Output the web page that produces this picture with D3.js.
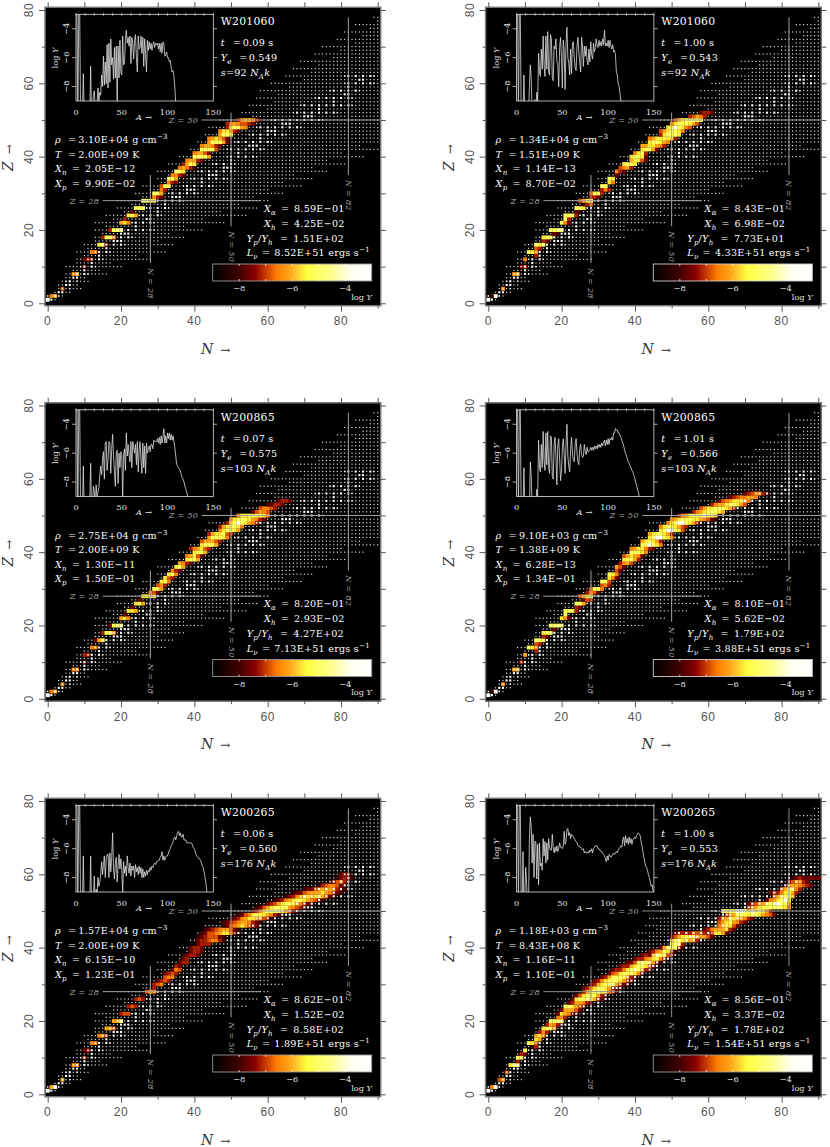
<!DOCTYPE html>
<html lang="en">
<head>
<meta charset="UTF-8">
<title>Nuclide abundances</title>
<script src="https://cdnjs.cloudflare.com/ajax/libs/d3/7.8.5/d3.min.js"></script>
<style>
    html, body { margin: 0; padding: 0; background: white; }
    svg { display: block; }
    text { font-family: "DejaVu Serif", serif; }
    .tick-num { font-family: "Liberation Sans", sans-serif; font-size: 12px; fill: #555; letter-spacing: .6px; }
    .info { font-size: 9.6px; fill: white; letter-spacing: .25px; }
    .sub { font-size: 7px; }
    .magic { font-size: 8px; font-style: italic; fill: #a8a8a8; letter-spacing: .3px; }
    .small { font-size: 8.2px; fill: #e4e4e4; }
</style>
</head>
<body>
<div id="chart"></div>
<script>
    // header texts, one entry per panel
    const modelNames = ["W201060", "W201060", "W200865", "W200865", "W200265", "W200265"];
    const times = ["0.09", "1.00", "0.07", "1.01", "0.06", "1.00"];
    const yeValues = ["0.549", "0.543", "0.575", "0.566", "0.560", "0.553"];
    const entropies = ["92", "92", "103", "103", "176", "176"];
    const rhoValues = ["3.10E+04", "1.34E+04", "2.75E+04", "9.10E+03", "1.57E+04", "1.18E+03"];
    const tempValues = ["2.00E+09", "1.51E+09", "2.00E+09", "1.38E+09", "2.00E+09", "8.43E+08"];
    const xnValues = ["2.05E−12", "1.14E−13", "1.30E−11", "6.28E−13", "6.15E−10", "1.16E−11"];
    const xpValues = ["9.90E−02", "8.70E−02", "1.50E−01", "1.34E−01", "1.23E−01", "1.10E−01"];
    const xaValues = ["8.59E−01", "8.43E−01", "8.20E−01", "8.10E−01", "8.62E−01", "8.56E−01"];
    const xhValues = ["4.25E−02", "6.98E−02", "2.93E−02", "5.62E−02", "1.52E−02", "3.37E−02"];
    const ypyhValues = ["1.51E+02", "7.73E+01", "4.27E+02", "1.79E+02", "8.58E+02", "1.78E+02"];
    const lnuValues = ["8.52E+51", "4.33E+51", "7.13E+51", "3.88E+51", "1.89E+51", "1.54E+51"];

    // inset curves, log Y for A = 1, 2, 3 ...  (-10 means off the bottom)
    const insetP1 = [-2.5,-10,-3,-2.5,-10,-10,-10,-7.1,-10,-10,-10,-10,-10,-10,-10,-6.6,-10,-9.5,-8.6,-8.3,-9.4,-9,-9.2,-8.1,-9,-8.4,-8.6,-7.2,-8,-5.9,-7.9,-6.3,-7.8,-5.1,-8.1,-5,-7.7,-4.7,-6.5,-6,-7.5,-5.3,-7.4,-5.2,-9.5,-5.2,-7.4,-4.8,-7,-7.2,-4.5,-6.5,-6.4,-4.7,-4.1,-5,-4.6,-5.2,-4.5,-6.4,-4.6,-5,-6.1,-4.8,-4.4,-6,-7,-4.5,-5.4,-5.3,-4.5,-5.7,-4.6,-6.6,-4.7,-5.7,-7,-4.8,-5.5,-4.9,-5.4,-5,-5.5,-5.1,-4.9,-5.3,-5,-5.1,-5,-5.4,-5,-5.6,-5,-5.7,-4.9,-5,-5.9,-5.8,-5.6,-6,-6,-6.3,-6.2,-6.7,-7,-6.9,-7.3,-8.1,-9.2,-10];
    const insetP2 = [-2.5,-10,-3,-2.5,-10,-10,-10,-7.2,-10,-10,-10,-10,-10,-8,-6.5,-7.5,-10,-9.3,-9.4,-8.9,-9.6,-8.4,-9,-5.7,-7,-7.3,-5.4,-6.8,-4.5,-6.5,-7.3,-4.5,-6.8,-4.2,-7,-7.2,-4.4,-4.7,-7.4,-7.6,-5.2,-5.4,-4.7,-6.3,-6.4,-8,-5.3,-4.6,-6,-8.1,-4.8,-5.6,-8.2,-5,-3.9,-6,-6.4,-7.2,-5.4,-7.1,-5,-4.9,-6,-6.7,-6.9,-5.2,-4.6,-5.6,-6.3,-7,-4.6,-5.2,-6.6,-5.2,-5.9,-5.2,-6.2,-6.5,-5.4,-6.3,-4.9,-5.8,-6.1,-5,-5.6,-5.3,-4.7,-5.2,-5.3,-4.8,-5.2,-4.9,-5.2,-4.7,-5.1,-4.1,-5.2,-5,-5.2,-4.8,-5.3,-4.8,-5.2,-5.4,-5.1,-5.6,-5.5,-5.8,-7,-7.2,-7.8,-8,-8.5,-9,-10];
    const insetP3 = [-2.5,-10,-3,-2.5,-10,-10,-10,-6.9,-10,-10,-10,-10,-10,-10,-9.4,-6.7,-10,-9.6,-8.3,-8.6,-10,-8.2,-9,-8.7,-8.4,-7.5,-6.9,-7.5,-6.4,-5.9,-7.8,-5.3,-5.2,-7.2,-6.4,-5.2,-5.3,-7.4,-5.7,-4.7,-6.2,-7.3,-8.3,-6,-5.8,-8.1,-6,-7,-5.9,-6.1,-9.2,-6.1,-5.7,-7.2,-4.6,-6.2,-5.4,-6.1,-6.6,-5.2,-7,-5.2,-5.6,-6,-5.4,-6.8,-5.2,-7.3,-5.8,-5.2,-6.4,-7.4,-5.3,-7,-5.5,-7.4,-5.3,-6,-5.7,-5.5,-5.9,-5.4,-5.4,-5.7,-5.1,-5.2,-5.2,-5.2,-5,-5.3,-4.9,-5.4,-4.8,-5.3,-4.9,-4.3,-5.3,-4.8,-5.3,-4.6,-5,-4.6,-5.1,-4.7,-5.1,-4.8,-5.2,-5.6,-6.2,-6.8,-6.9,-7,-7.1,-7.2,-7.5,-7.7,-7.8,-8,-8.3,-8.5,-8.7,-9,-10];
    const insetP4 = [-2.5,-10,-3,-2.5,-10,-10,-10,-7,-10,-10,-10,-10,-10,-10,-6.6,-7.6,-10,-9.3,-9.5,-9,-9.7,-8.5,-9,-5.1,-7,-7.3,-5.4,-7,-4.5,-6.5,-7.2,-4.6,-6.8,-4.5,-7,-7.4,-4.8,-4.9,-7.6,-7.8,-5.4,-4.9,-6.3,-8.2,-5.5,-5,-6.4,-7.9,-7.3,-5.6,-5,-6.1,-7.4,-5.4,-4,-6.2,-6.9,-7.3,-5.8,-4.9,-6,-6.5,-6.6,-5.4,-5,-6,-6.6,-6.8,-5.7,-5.4,-6.1,-6.3,-6.2,-5.4,-5.9,-6.1,-5.6,-5.9,-5.9,-5.8,-5.6,-5.8,-5.6,-5.8,-5.5,-5.7,-5.5,-5.7,-5.4,-5.6,-5.4,-5.6,-5.3,-5.5,-5.2,-5.1,-5.5,-5.1,-5.4,-5,-5.4,-5,-5.1,-4.9,-5.1,-4.6,-4.6,-4.3,-4.4,-4.4,-4.6,-4.6,-4.8,-4.9,-5.1,-5.3,-5.5,-5.8,-6,-6.2,-6.4,-6.6,-6.7,-6.9,-7,-7.2,-7.3,-7.5,-7.7,-8,-8.2,-8.5,-8.7,-9,-10];
    const insetP5 = [-2.5,-10,-3,-2.5,-10,-10,-10,-6.5,-10,-10,-10,-10,-10,-10,-10,-6.5,-10,-9.5,-9.5,-7.9,-10,-8.8,-9.2,-8,-8.6,-8.3,-7.8,-6.9,-7.8,-7.1,-6.5,-8,-6.7,-6.4,-6.4,-8,-6.3,-7.6,-6.6,-4.9,-7.4,-8.1,-7,-6.6,-8.3,-7.2,-6.4,-7.4,-6.7,-7.5,-9,-6.9,-7.7,-7.2,-7.9,-6.5,-7.3,-7.7,-7,-7.9,-7.2,-7.5,-7.2,-8,-7.1,-7.6,-7.3,-7.8,-7.2,-7.7,-7.3,-8,-7.4,-8,-7.6,-7.9,-7.5,-7.8,-7.5,-7.6,-7.3,-7.5,-7.2,-7.3,-7.1,-7,-7.1,-6.9,-6.9,-6.8,-6.8,-6.6,-6.5,-6.2,-6.8,-6.5,-6.8,-6.6,-6.5,-6.5,-6.3,-6.1,-6,-5.8,-5.7,-5.5,-5.3,-5.2,-5.4,-5.1,-4.9,-4.8,-5.1,-4.9,-5.2,-5.2,-5,-5.4,-5.4,-5.4,-5.6,-5.6,-5.6,-5.6,-5.6,-5.6,-5.7,-5.9,-6,-6.1,-6.4,-6.5,-6.6,-6.7,-6.7,-6.8,-7,-7.2,-7.3,-7.6,-8,-8.4,-9,-10];
    const insetP6 = [-2.5,-10,-3,-2.5,-10,-10,-6.2,-10,-9,-7.3,-8.6,-10,-10,-5.3,-3.8,-4.5,-7,-5,-8,-5.5,-5.5,-8.1,-5.7,-8.5,-5.6,-7.2,-7,-7.5,-5.3,-6.5,-5.5,-7,-5.6,-6.8,-5.3,-5.9,-6.1,-6.1,-5,-5.9,-6.3,-5.9,-6.2,-5.8,-6.2,-6,-5.6,-5.9,-5.9,-6,-5.8,-4.8,-5.7,-5.5,-4.7,-4.6,-5.1,-4.9,-5.3,-5,-5.1,-5.2,-5.3,-5.4,-5.5,-5.6,-5.8,-5.8,-5.9,-5.9,-6,-6.1,-6,-6.3,-6.2,-6.3,-6.3,-6.2,-6.3,-6.1,-6.2,-6,-6.3,-6,-5.9,-5.8,-5.8,-5.8,-6,-6,-6.1,-6.2,-6.2,-6.3,-6.4,-6.5,-6.7,-6.9,-6.5,-6.8,-6.4,-6.5,-6.6,-6.5,-6.4,-6.3,-6.4,-6.3,-6.2,-6.3,-6.1,-6,-5.9,-5.8,-5.9,-5.4,-5.2,-5.8,-5.1,-5.6,-5.3,-5.7,-5.2,-5.6,-5.3,-5.7,-5.4,-5.3,-5.2,-5.3,-5.1,-5,-4.9,-5,-5.1,-5.5,-5.8,-6.2,-6.6,-6.9,-7.2,-7.3,-7.5,-7.8,-8,-8.3,-8.6,-8.5,-8.9,-9.1];

    // abundance read per cell: [Z, first N, one digit per N], digit indexes heatLevels
    const heatLevels = [-8.6, -8, -7.6, -7.2, -6.85, -6.5, -6.1, -5.6, -5.1, -3.6];
    const heatP1 = [[1,0,"9"],[2,1,"56"],[4,4,"4"],[8,7,"56"],[10,10,"2"],[12,10,"232"],[14,12,"551"],[16,14,"782"],[18,15,"3885"],[20,17,"3888"],[22,20,"675"],[23,21,"3"],[24,22,"786"],[25,23,"2"],[26,24,"888"],[28,26,"8887"],[29,29,"532"],[30,29,"886"],[31,31,"53"],[32,31,"488"],[33,33,"532"],[34,33,"886"],[35,34,"5532"],[36,35,"887"],[37,36,"56531"],[38,37,"3687"],[39,38,"56632"],[40,40,"88886"],[41,40,"56642"],[42,42,"88884"],[43,42,"566532"],[44,44,"688862"],[45,44,"567642"],[46,47,"6887"],[47,47,"577632"],[48,49,"378865"],[49,49,"35654432"],[50,52,"3566531"]];
    const heatP2 = [[1,0,"9"],[2,1,"19"],[4,4,"5"],[8,7,"56"],[10,9,"23"],[12,10,"5"],[13,13,"3"],[14,11,"875"],[15,13,"43"],[16,13,"878"],[17,15,"32"],[18,15,"787"],[19,18,"21"],[20,17,"8888"],[22,20,"852"],[23,21,"83"],[24,21,"8883"],[25,24,"21"],[26,24,"887"],[27,26,"134"],[28,25,"4678"],[29,28,"3"],[29,29,"32"],[30,28,"4883"],[31,31,"353"],[32,31,"88"],[33,33,"75"],[34,33,"87"],[35,35,"2"],[36,35,"532"],[37,36,"4563"],[38,37,"7887"],[39,39,"67742"],[40,39,"78872"],[41,40,"5783"],[42,42,"78862"],[43,42,"6677653"],[44,44,"788765"],[45,44,"56778773"],[46,47,"378887"],[47,47,"4678875"],[48,49,"7898754"],[49,50,"57888764"],[50,51,"46788887"],[51,55,"34653"],[52,58,"2332"]];
    const heatP3 = [[1,0,"9"],[2,1,"56"],[4,4,"5"],[8,7,"55"],[10,10,"2"],[12,10,"33"],[14,12,"55"],[16,13,"267"],[18,15,"3885"],[20,17,"2888"],[22,20,"675"],[23,21,"2"],[24,22,"776"],[25,23,"2"],[26,24,"786"],[27,25,"2"],[28,26,"7777"],[29,28,"542"],[30,29,"886"],[31,30,"453"],[32,31,"785"],[33,32,"743"],[34,33,"785"],[35,34,"532"],[36,35,"786"],[37,36,"6532"],[38,38,"7886"],[39,38,"56742"],[40,40,"7886"],[41,39,"356743"],[42,42,"78886"],[43,42,"466643"],[44,44,"688875"],[45,44,"3677843"],[46,47,"578876"],[47,47,"3678875"],[48,49,"378987653"],[49,50,"5788876532"],[50,52,"577888875"],[51,56,"24654"],[52,58,"45543"],[53,60,"12332"],[54,63,"2332"]];
    const heatP4 = [[1,0,"9"],[2,1,"19"],[4,4,"5"],[8,7,"66"],[10,9,"3"],[12,10,"6"],[13,13,"3"],[14,11,"875"],[15,13,"43"],[16,13,"887"],[17,15,"32"],[18,15,"787"],[19,18,"2"],[20,17,"8887"],[22,20,"752"],[23,21,"8"],[24,21,"8883"],[25,24,"32"],[26,24,"886"],[27,26,"243"],[28,25,"4678"],[29,27,"3542"],[30,28,"4885"],[31,31,"453"],[32,31,"884"],[33,33,"752"],[34,33,"875"],[35,35,"42"],[36,35,"642"],[37,36,"3564"],[38,37,"78863"],[39,37,"467652"],[40,39,"88875"],[41,39,"5677532"],[42,42,"889875"],[43,42,"678763"],[44,44,"7899875"],[45,44,"6788763"],[46,47,"7899874"],[47,47,"57887643"],[48,49,"578998763"],[49,50,"5678887765421"],[50,52,"35678889886"],[51,56,"356788876"],[52,58,"4677888763"],[53,61,"3566788764"],[54,63,"245677765"],[55,66,"23455665"],[56,70,"2345531"]];
    const heatP5 = [[1,0,"9"],[2,1,"69"],[4,4,"6"],[8,7,"55"],[10,10,"3"],[12,10,"23"],[14,12,"55"],[16,14,"563"],[18,16,"664"],[20,18,"668"],[22,20,"344"],[24,22,"343"],[26,24,"343"],[27,26,"1"],[28,27,"465"],[29,29,"3"],[30,29,"345"],[31,30,"2343"],[32,32,"455"],[33,32,"2343"],[34,34,"254"],[35,35,"32"],[36,36,"233"],[37,37,"23"],[38,37,"12332"],[39,39,"2332"],[40,39,"2332"],[41,41,"2333"],[42,41,"23345531"],[43,41,"12344421"],[44,42,"12445677521"],[45,43,"1234566421"],[46,48,"1245676432"],[47,48,"12345665321"],[48,50,"123567765421"],[49,52,"124578876532"],[50,56,"2357888876421"],[51,57,"12467888865431"],[52,60,"2346788765321"],[53,62,"12356788765421"],[54,65,"12356776776421"],[55,67,"12245666765321"],[56,70,"122456665321"],[57,74,"13455421"],[58,77,"124531"],[59,79,"12321"],[60,80,"232"]];
    const heatP6 = [[1,0,"9"],[2,1,"59"],[4,3,"46"],[6,5,"4"],[8,6,"788"],[9,8,"3"],[10,8,"87"],[11,9,"32"],[12,10,"8"],[13,12,"13"],[14,11,"874"],[15,13,"76"],[16,13,"675"],[17,14,"353"],[18,15,"7875"],[19,16,"36531"],[20,17,"8887"],[21,19,"553"],[22,19,"276521"],[23,20,"266642"],[24,21,"887642"],[25,22,"2366532"],[26,23,"278888632"],[27,24,"247888631"],[28,26,"3688887531"],[29,26,"23578876321"],[30,28,"23678886321"],[31,29,"23578887632"],[32,31,"2368887532"],[33,33,"2457888752"],[34,34,"23357888632"],[35,36,"2336788742"],[36,38,"2247887631"],[37,40,"233567853"],[38,42,"232688742"],[39,44,"23568731"],[40,47,"2688831"],[41,50,"8883"],[42,50,"68877653"],[43,50,"246787766642"],[44,51,"233334443337762"],[45,59,"235666732"],[46,63,"567742"],[47,63,"46786532"],[48,63,"3568766532"],[49,65,"35688878876542"],[50,64,"88889988988763"],[51,71,"356788888875"],[52,71,"234567889886"],[53,76,"2567897"],[54,78,"467886"],[55,77,"23357863"],[56,80,"467853"],[57,82,"5665432"],[58,82,"245532"],[59,83,"12322222"]];

    // nuclides in the network, indexed by Z
    const netNmin = [1,0,1,2,3,3,4,5,5,7,5,8,8,10,8,11,10,13,13,15,13,16,13,18,16,21,19,23,19,26,24,28,26,31,30,33,30,36,33,38,36,41,39,44,41,46,43,47,44,50,47,56,53,60,55,62,57,63,58,66,61,70,65,72,67,74,69,78,73,80,75,84,79,86,81,88,84,90,89,91];
    const netNmax = [0,2,4,6,9,8,11,10,16,14,20,17,28,24,32,27,34,30,37,33,42,37,48,42,54,47,57,52,60,56,64,60,69,64,72,67,76,72,81,76,86,80,90,85,90,90,90,90,90,90,90,90,90,90,90,90,90,90,90,90,90,90,90,90,90,90,90,90,90,90,90,90,90,90,90,90,90,90,90,90];
    // stable range by Z, drawn as the larger dots
    const stableNmin = [0,0,1,3,5,5,6,7,8,10,10,12,12,14,14,16,16,18,18,20,20,24,24,27,26,30,28,32,30,34,34,38,38,42,40,44,42,48,46,50,50,52,50,55,52,58,56,60,58,64,62,70,68,74,70,78,74,81,78,82,82,85,82];
    const stableNmax = [0,1,2,4,5,6,7,8,10,10,12,12,14,14,16,16,20,20,22,22,28,24,28,28,30,30,32,32,36,36,40,40,44,42,48,46,50,50,50,50,56,52,58,57,60,58,64,62,68,66,74,72,78,74,82,78,82,82,84,82,88,86,88];

    // magic number guide lines
    const magicN = [28, 50, 82];
    const magicNz = [[11, 35], [21, 52], [35, 78]];
    const magicZ = [28, 50];
    const magicZn = [[15, 58], [42, 90.7]];

    const xTicks = d3.range(0, 91, 10);
    const yTicks = d3.range(0, 81, 10);
    const insetATicks = [0, 50, 100, 150];
    const insetYTicks = [-4, -6, -8];
    const barTicks = [-8, -7, -6, -5, -4];
    const colorStopsLog = [-9, -8, -7.4, -7, -6.6, -6, -5.45, -4.5, -3.8, -3];
    const colorStops = ["#000000", "#400000", "#8a0000", "#c83a00", "#ff7a00", "#ffb020", "#ffff40", "#ffff90", "#fffff0", "#ffffff"];

    const insetSeries = [insetP1, insetP2, insetP3, insetP4, insetP5, insetP6];
    const heatSeries = [heatP1, heatP2, heatP3, heatP4, heatP5, heatP6];
    const colOffsets = [0, 440.6];
    const rowOffsets = [0, 395.5, 791];

    const color = d3.scaleLinear().domain(colorStopsLog).range(colorStops).clamp(true);
    const xScale = d3.scaleLinear().domain([0, 90]).range([47.7, 377.7]);
    const yScale = d3.scaleLinear().domain([0, 80]).range([303.3, 10]);
    const cell = xScale(1) - xScale(0);
    const insetX = d3.scaleLinear().domain([0, 150]).range([76, 213.3]);
    const insetY = d3.scaleLinear().domain([-9, -3]).range([101, 14.3]);
    const barX = d3.scaleLinear().domain([-9, -3]).range([212.7, 371.7]);

    const svg = d3.select("#chart").append("svg").attr("width", 830).attr("height", 1147);

    const grad = svg.append("defs").append("linearGradient").attr("id", "barGrad");
    colorStopsLog.forEach((v, i) => {
        grad.append("stop").attr("offset", (v + 9) / 6).attr("stop-color", colorStops[i]);
    });

    // writes "name_sub = value" with the pieces placed separately
    const infoLine = (g, x, y, name, sub, eqX, valX, value, sup) => {
        const t = g.append("text").attr("class", "info").attr("x", x).attr("y", y);
        t.append("tspan").attr("font-style", "italic").text(name);
        if (sub) t.append("tspan").attr("class", "sub").attr("font-style", "italic").attr("dy", 3).text(sub);
        g.append("text").attr("class", "info").attr("x", eqX).attr("y", y).text("=");
        const v = g.append("text").attr("class", "info").attr("x", valX).attr("y", y).text(value);
        if (sup) v.append("tspan").attr("class", "sub").attr("dy", -4).text(sup);
    };

    const drawPanel = (i) => {
        const g = svg.append("g")
            .attr("transform", `translate(${colOffsets[i % 2]},${rowOffsets[Math.floor(i / 2)]})`);

        g.append("rect").attr("x", 45).attr("y", 7.3).attr("width", 335.7).attr("height", 298.4)
            .attr("fill", "black").attr("stroke", "#777").attr("stroke-width", 1.5);

        // axes
        const axes = [
            [d3.axisBottom(xScale).tickValues(xTicks), `translate(0,305.7)`],
            [d3.axisTop(xScale).tickValues(xTicks), `translate(0,7.3)`],
            [d3.axisLeft(yScale).tickValues(yTicks), `translate(45,0)`],
            [d3.axisRight(yScale).tickValues(yTicks), `translate(380.7,0)`]
        ];
        axes.forEach(([axis, tr], k) => {
            const a = g.append("g").attr("transform", tr)
                .call(axis.tickFormat("").tickSizeOuter(0).tickSize(5));
            a.select(".domain").remove();
            a.selectAll("line").attr("stroke", "#555");
            if (k === 0 || k === 2) {
                a.selectAll(".tick line").each(function (d) {
                    const minor = d % 20 !== 0;
                    const len = minor ? 3 : 6;
                    if (k === 0) d3.select(this).attr("y2", len);
                    else d3.select(this).attr("x2", -len);
                });
            }
        });
        xTicks.filter(d => d % 20 === 0 && d < 90).forEach(d => {
            g.append("text").attr("class", "tick-num").attr("x", xScale(d)).attr("y", 325)
                .attr("text-anchor", "middle").text(d);
        });
        yTicks.filter(d => d % 20 === 0).forEach(d => {
            g.append("text").attr("class", "tick-num").attr("text-anchor", "middle")
                .attr("transform", `translate(33,${yScale(d)}) rotate(-90)`).text(d);
        });
        const xLab = g.append("text").attr("x", 201).attr("y", 353.5).attr("font-size", 14).attr("fill", "#333");
        xLab.append("tspan").attr("font-style", "italic").text("N");
        xLab.append("tspan").attr("dx", 7).attr("font-size", 12).text("→");
        const yLab = g.append("text").attr("font-size", 14).attr("fill", "#333")
            .attr("transform", "translate(13,171) rotate(-90)");
        yLab.append("tspan").attr("font-style", "italic").text("Z");
        yLab.append("tspan").attr("dx", 7).attr("font-size", 12).text("→");

        // network dots
        const netCells = [];
        netNmin.forEach((lo, z) => {
            d3.range(lo, netNmax[z] + 1).forEach(n => netCells.push({ n: n, z: z }));
        });
        g.append("g").selectAll("rect").data(netCells).enter().append("rect")
            .attr("x", d => xScale(d.n) - 0.55).attr("y", d => yScale(d.z) - 0.55)
            .attr("width", 1.1).attr("height", 1.1).attr("fill", "white");

        // abundance cells
        const heatCells = [];
        heatSeries[i].forEach(([z, n0, digits]) => {
            digits.split("").forEach((c, k) => {
                heatCells.push({ n: n0 + k, z: z, logY: heatLevels[+c] });
            });
        });
        g.append("g").selectAll("rect").data(heatCells).enter().append("rect")
            .attr("x", d => xScale(d.n) - cell / 2).attr("y", d => yScale(d.z) - cell / 2)
            .attr("width", cell + 0.2).attr("height", cell + 0.2)
            .attr("fill", d => color(d.logY));

        // stable nuclei and their neighbours on top
        const stableCells = [];
        stableNmin.forEach((lo, z) => {
            if (z === 0) return;
            d3.range(lo - 1, stableNmax[z] + 2).forEach(n => {
                if (n < 0) return;
                const inside = n >= lo && n <= stableNmax[z];
                const show = inside ? (z % 2 === 1 || n % 2 === 0) : z % 2 === 0;
                if (show) stableCells.push({ n: n, z: z, s: inside ? 2.1 : 1.5 });
            });
        });
        g.append("g").selectAll("rect").data(stableCells).enter().append("rect")
            .attr("x", d => xScale(d.n) - d.s / 2).attr("y", d => yScale(d.z) - d.s / 2)
            .attr("width", d => d.s).attr("height", d => d.s).attr("fill", "white");

        // magic lines
        const lineCol = i === 5 ? "#8a8a8a" : "#a0a0a0";
        magicN.forEach((n, k) => {
            g.append("line").attr("x1", xScale(n)).attr("x2", xScale(n))
                .attr("y1", yScale(magicNz[k][1])).attr("y2", yScale(magicNz[k][0]))
                .attr("stroke", lineCol).attr("stroke-width", 1);
            g.append("text").attr("class", "magic")
                .attr("transform", `translate(${xScale(n) - 2.5},${yScale(magicNz[k][0]) + 5}) rotate(90)`)
                .text(`N = ${n}`);
        });
        magicZ.forEach((z, k) => {
            g.append("line").attr("y1", yScale(z)).attr("y2", yScale(z))
                .attr("x1", xScale(magicZn[k][0])).attr("x2", xScale(magicZn[k][1]))
                .attr("stroke", lineCol).attr("stroke-width", 1);
            g.append("text").attr("class", "magic").attr("text-anchor", "end")
                .attr("x", xScale(magicZn[k][0]) - 3.5).attr("y", yScale(z) + 3)
                .text(`Z = ${z}`);
        });

        // inset
        const clipId = "inset" + i;
        g.append("clipPath").attr("id", clipId).append("rect")
            .attr("x", 76).attr("y", 14.3).attr("width", 137.3).attr("height", 86.7);
        const line = d3.line().x((d, k) => insetX(k + 1)).y(d => insetY(d));
        g.append("rect").attr("x", 76).attr("y", 14.3).attr("width", 137.3).attr("height", 86.7)
            .attr("fill", "black").attr("stroke", "#ddd").attr("stroke-width", 0.8);
        g.append("path").attr("clip-path", `url(#${clipId})`).attr("d", line(insetSeries[i]))
            .attr("fill", "none").attr("stroke", "#ddd").attr("stroke-width", 0.8);
        d3.range(0, 151, 10).forEach(a => {
            g.append("line").attr("x1", insetX(a)).attr("x2", insetX(a)).attr("y1", 12.8).attr("y2", 15.8)
                .attr("stroke", "#ccc").attr("stroke-width", 0.7);
        });
        insetYTicks.forEach(v => {
            g.append("line").attr("x1", 72).attr("x2", 76).attr("y1", insetY(v)).attr("y2", insetY(v))
                .attr("stroke", "#ccc").attr("stroke-width", 0.8);
            g.append("line").attr("x1", 213.3).attr("x2", 217).attr("y1", insetY(v)).attr("y2", insetY(v))
                .attr("stroke", "#ccc").attr("stroke-width", 0.8);
            g.append("text").attr("class", "small").attr("text-anchor", "middle")
                .attr("transform", `translate(69,${insetY(v)}) rotate(-90)`).text("−" + Math.abs(v));
        });
        insetATicks.forEach(a => {
            g.append("text").attr("class", "small").attr("text-anchor", "middle")
                .attr("x", insetX(a)).attr("y", 114.5).text(a);
        });
        const aLab = g.append("text").attr("class", "small").attr("x", 136).attr("y", 119.5);
        aLab.append("tspan").attr("font-style", "italic").text("A");
        aLab.append("tspan").attr("dx", 3).text("→");
        const logLab = g.append("text").attr("class", "small").attr("text-anchor", "middle")
            .attr("transform", "translate(58,58) rotate(-90)");
        logLab.append("tspan").text("log ");
        logLab.append("tspan").attr("font-style", "italic").text("Y");

        // header texts
        g.append("text").attr("class", "info").attr("x", 220.7).attr("y", 25)
            .style("font-size", "10.8px").text(modelNames[i]);
        infoLine(g, 220.7, 46, "t", null, 233, 242.7, times[i] + " s");
        infoLine(g, 220.7, 61, "Y", "e", 239.3, 248.7, yeValues[i]);
        const s = g.append("text").attr("class", "info").attr("x", 220.7).attr("y", 76);
        s.append("tspan").attr("font-style", "italic").text("s");
        s.append("tspan").text("=" + entropies[i] + " ");
        s.append("tspan").attr("font-style", "italic").text("N");
        s.append("tspan").attr("class", "sub").attr("font-style", "italic").attr("dy", 3).text("A");
        s.append("tspan").attr("font-style", "italic").attr("dy", -3).text("k");

        infoLine(g, 55, 143, "ρ", null, 68, 78.3, rhoValues[i] + " g cm", "−3");
        infoLine(g, 55, 157.5, "T", null, 68, 78.3, tempValues[i] + " K");
        infoLine(g, 55, 172, "X", "n", 72, 85, xnValues[i]);
        infoLine(g, 55, 186.5, "X", "p", 72, 85, xpValues[i]);

        infoLine(g, 264, 211.5, "X", "α", 281, 294, xaValues[i]);
        infoLine(g, 264, 226.5, "X", "h", 281, 294, xhValues[i]);
        const yy = g.append("text").attr("class", "info").attr("x", 246.7).attr("y", 241.5);
        yy.append("tspan").attr("font-style", "italic").text("Y");
        yy.append("tspan").attr("class", "sub").attr("font-style", "italic").attr("dy", 3).text("p");
        yy.append("tspan").attr("dy", -3).text("/");
        yy.append("tspan").attr("font-style", "italic").text("Y");
        yy.append("tspan").attr("class", "sub").attr("font-style", "italic").attr("dy", 3).text("h");
        g.append("text").attr("class", "info").attr("x", 280).attr("y", 241.5).text("=");
        g.append("text").attr("class", "info").attr("x", 293.3).attr("y", 241.5).text(ypyhValues[i]);
        infoLine(g, 246.7, 256, "L", "ν", 262, 274.3, lnuValues[i] + " ergs s", "−1");

        // colour bar
        g.append("rect").attr("x", 212.7).attr("y", 264).attr("width", 159).attr("height", 17)
            .attr("fill", "url(#barGrad)").attr("stroke", i === 1 || i === 3 ? "#ccc" : "#999").attr("stroke-width", 0.9);
        barTicks.forEach(v => {
            g.append("line").attr("x1", barX(v)).attr("x2", barX(v)).attr("y1", 264).attr("y2", 266)
                .attr("stroke", "white").attr("stroke-width", 0.7);
            g.append("line").attr("x1", barX(v)).attr("x2", barX(v)).attr("y1", 279).attr("y2", 281)
                .attr("stroke", "white").attr("stroke-width", 0.7);
        });
        [-8, -6, -4].forEach(v => {
            g.append("text").attr("class", "small").attr("text-anchor", "middle")
                .attr("x", barX(v)).attr("y", 291).text("−" + Math.abs(v));
        });
        const barLab = g.append("text").attr("class", "small").attr("text-anchor", "end")
            .attr("x", 372).attr("y", 299.5);
        barLab.append("tspan").text("log ");
        barLab.append("tspan").attr("font-style", "italic").text("Y");
    };

    d3.range(6).forEach(drawPanel);
</script>
</body>
</html>
